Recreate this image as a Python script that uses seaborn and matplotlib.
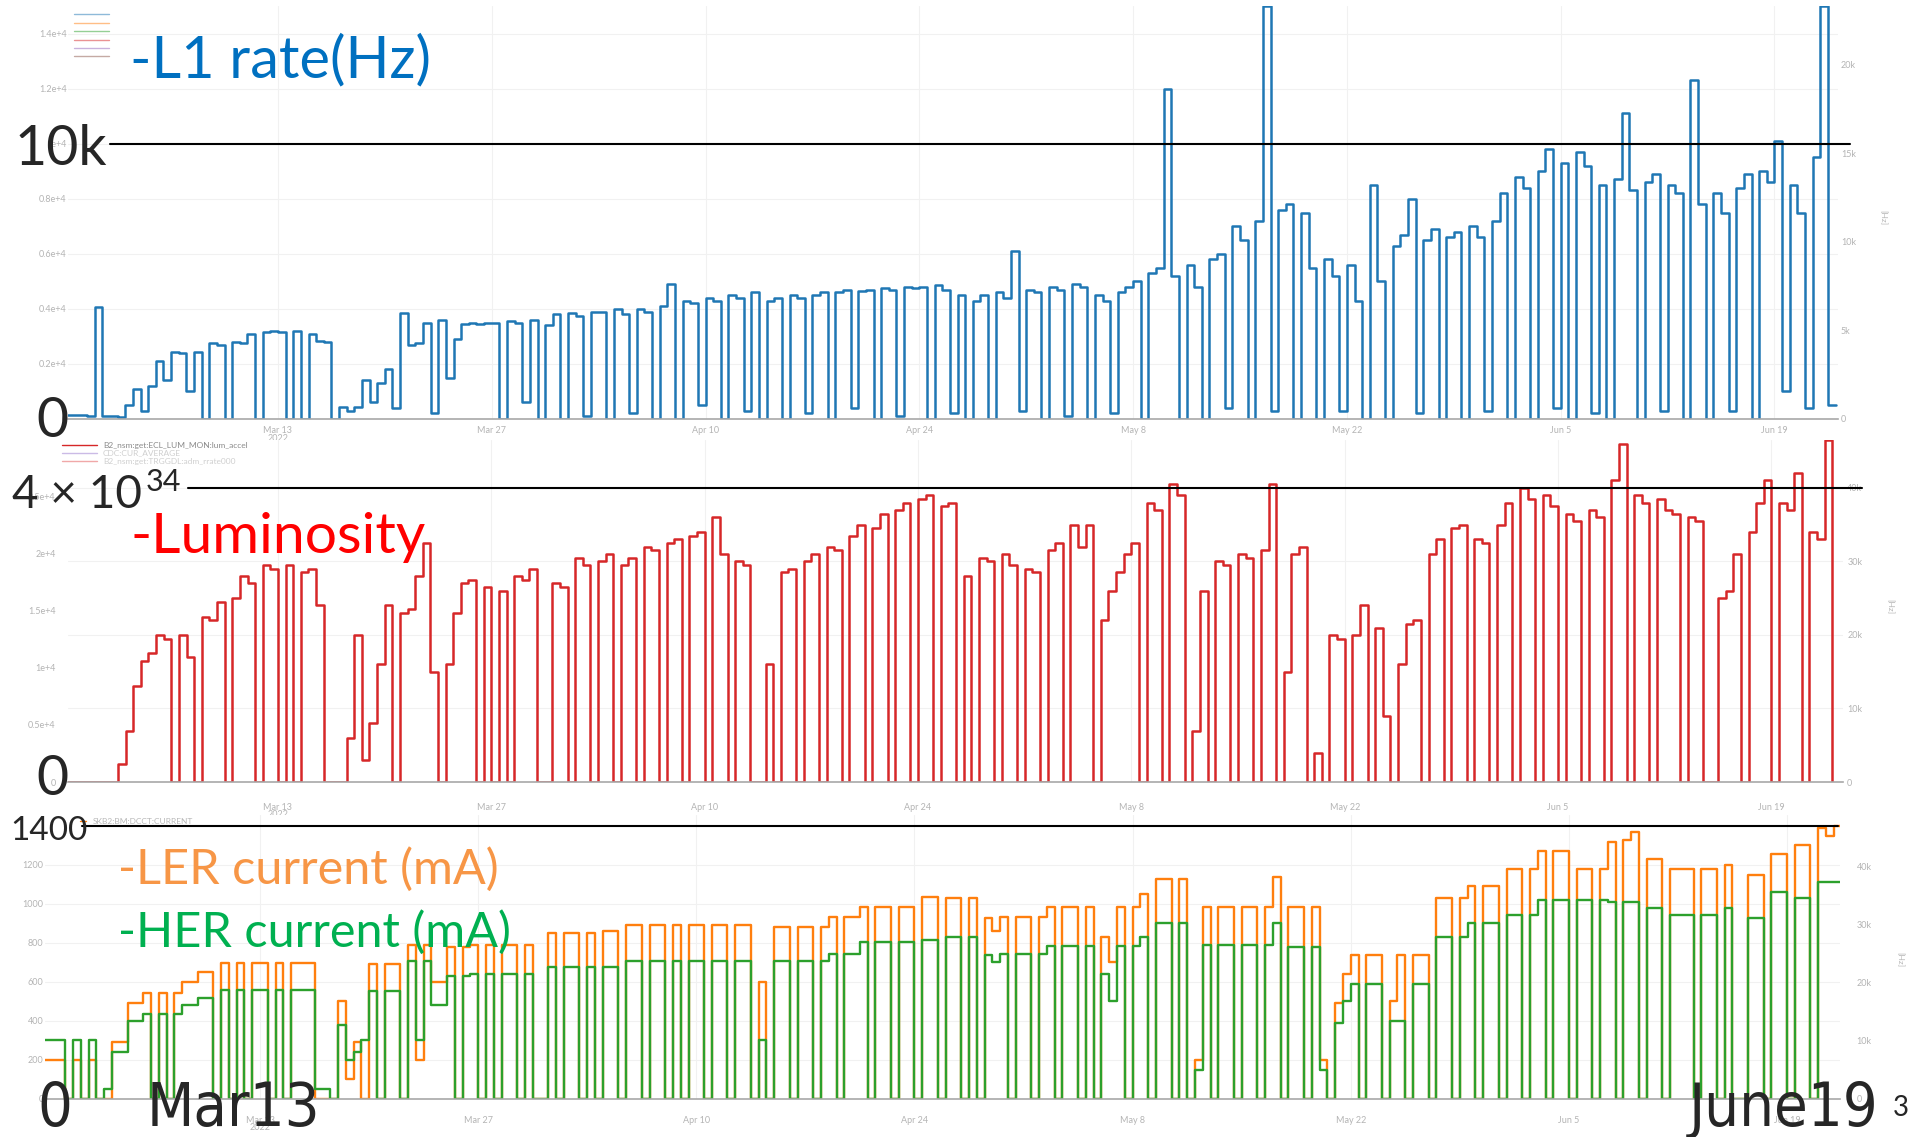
import matplotlib
matplotlib.use("Agg")
import matplotlib.pyplot as plt
from matplotlib import font_manager
from matplotlib.font_manager import FontProperties
from matplotlib.lines import Line2D
import pandas as pd
import seaborn as sns

W, H = 1915, 1137

# one reading every 12 h, Feb 27 -> Jun 23 2022
times = pd.date_range("2022-02-27", periods=233, freq="12h")

# L1 trigger rate [Hz], one row per week
l1_rate = [
    150, 150, 150, 120, 4050, 100, 100, 80, 500, 1100, 300, 1200, 2100, 1400,
    2450, 2400, 1000, 2450, 0, 2750, 2700, 0, 2800, 2750, 3100, 0, 3150, 3200,
    3150, 0, 3200, 0, 3100, 2850, 2800, 0, 450, 300, 450, 1400, 600, 1300,
    1800, 400, 3850, 2700, 2750, 3500, 200, 3600, 1500, 2900, 3450, 3500, 3450, 3500,
    3500, 0, 3550, 3500, 600, 3600, 0, 3400, 3800, 0, 3850, 3750, 100, 3900,
    3900, 0, 4000, 3800, 200, 4000, 3900, 0, 4100, 4900, 0, 4300, 4200, 500,
    4400, 4300, 0, 4500, 4400, 300, 4600, 0, 4300, 4400, 0, 4500, 4400, 200,
    4500, 4600, 0, 4600, 4700, 400, 4650, 4700, 0, 4750, 4700, 100, 4800, 4750,
    4800, 0, 4850, 4700, 200, 4500, 0, 4300, 4500, 0, 4600, 4400, 6100, 300,
    4700, 4600, 0, 4800, 4700, 100, 4900, 4800, 0, 4500, 4300, 200, 4600, 4800,
    5000, 0, 5300, 5500, 12000, 5200, 0, 5600, 4800, 0, 5800, 6000, 400, 7000,
    6500, 0, 7200, 15000, 300, 7600, 7800, 0, 7500, 5500, 0, 5800, 5200, 300,
    5600, 4300, 0, 8500, 5000, 0, 6300, 6700, 8000, 200, 6500, 6900, 0, 6600,
    6800, 0, 7000, 6600, 300, 7200, 8200, 0, 8800, 8400, 0, 9000, 9800, 400,
    9300, 0, 9700, 9200, 200, 8500, 0, 8700, 11100, 8300, 0, 8600, 8900, 300,
    8500, 8200, 0, 12300, 7800, 0, 8200, 7500, 300, 8400, 8900, 0, 9000, 8600,
    10100, 1000, 8500, 7500, 400, 9500, 15000, 500, 500,
]

# luminosity [1e30 /cm2/s]
luminosity = [
    0, 0, 0, 0, 0, 0, 0, 2500, 7000, 13000, 16500, 17500, 20000, 19500,
    0, 20000, 17000, 0, 22500, 22000, 24500, 0, 25000, 28000, 27000, 0, 29500, 29000,
    0, 29500, 0, 28500, 29000, 24000, 0, 0, 0, 6000, 20000, 3000, 8000, 16000,
    24000, 0, 23000, 23500, 28000, 32500, 15000, 0, 16000, 23000, 27000, 27500, 0, 26500,
    0, 26000, 0, 28000, 27500, 29000, 0, 0, 27000, 26500, 0, 30500, 29500, 0,
    30000, 31000, 0, 29500, 30500, 0, 32000, 31500, 0, 32500, 33000, 0, 33500, 34000,
    0, 36000, 31000, 0, 30000, 29500, 0, 0, 16000, 0, 28500, 29000, 0, 30000,
    31000, 0, 32000, 31500, 0, 33500, 35000, 0, 34500, 36500, 0, 37000, 38000, 0,
    38500, 39000, 0, 37500, 38000, 0, 28000, 0, 30500, 30000, 0, 31000, 29500, 0,
    29000, 28500, 0, 31500, 32500, 0, 35000, 32000, 35000, 0, 22000, 26000, 28500, 31000,
    32500, 0, 38000, 37000, 0, 40500, 39000, 0, 7000, 26000, 0, 30000, 29500, 0,
    31000, 30500, 0, 31500, 40500, 0, 15000, 31000, 32000, 0, 4000, 0, 20000, 19500,
    0, 20000, 24000, 0, 21000, 9000, 0, 16000, 21500, 22000, 0, 31000, 33000, 0,
    34500, 35000, 0, 33000, 32500, 0, 35000, 38000, 0, 40000, 38500, 0, 39000, 37500,
    0, 36500, 35500, 0, 37000, 36000, 0, 41000, 46000, 0, 39000, 38000, 0, 38500,
    37000, 36500, 0, 36000, 35500, 0, 0, 25000, 26000, 31000, 0, 34000, 38000, 41000,
    0, 38000, 37000, 42000, 0, 34000, 33000, 46500, 0,
]

# beam currents [mA]
ler_current = [
    200, 200, 200, 0, 200, 0, 200, 0, 0, 290, 290, 490, 490, 545,
    0, 545, 0, 545, 600, 600, 650, 650, 0, 695, 0, 695, 0, 695,
    695, 0, 695, 0, 695, 695, 695, 0, 0, 0, 500, 100, 290, 0,
    690, 0, 690, 690, 0, 790, 200, 790, 600, 600, 780, 0, 780, 790,
    0, 790, 0, 790, 790, 0, 790, 0, 0, 850, 0, 850, 850, 0,
    850, 0, 860, 860, 0, 890, 890, 0, 890, 890, 0, 890, 0, 890,
    890, 0, 890, 890, 0, 890, 890, 0, 600, 0, 880, 880, 0, 880,
    880, 0, 880, 935, 0, 935, 935, 985, 0, 985, 985, 0, 985, 985,
    0, 1035, 1035, 0, 1030, 1030, 0, 1030, 0, 930, 860, 935, 0, 935,
    935, 0, 935, 985, 0, 985, 985, 0, 985, 0, 830, 700, 985, 0,
    985, 1050, 0, 1130, 1130, 0, 1130, 0, 200, 985, 0, 985, 985, 0,
    985, 985, 0, 985, 1140, 0, 985, 985, 0, 985, 200, 0, 490, 640,
    740, 0, 740, 740, 0, 500, 740, 0, 740, 740, 0, 1030, 1030, 0,
    1030, 1090, 0, 1090, 1090, 0, 1180, 1180, 0, 1180, 1270, 0, 1270, 1270,
    0, 1180, 1180, 0, 1180, 1320, 0, 1330, 1370, 0, 1230, 1230, 0, 1180,
    1180, 1180, 0, 1180, 1180, 0, 1200, 0, 0, 1150, 1150, 0, 1255, 1255,
    0, 1300, 1300, 0, 1390, 1350, 1400, 0, 0,
]

her_current = [
    300, 300, 300, 0, 300, 0, 300, 0, 50, 240, 240, 400, 400, 435,
    0, 435, 0, 435, 480, 480, 520, 520, 0, 560, 0, 560, 0, 560,
    560, 0, 560, 0, 560, 560, 560, 50, 50, 0, 380, 200, 240, 300,
    555, 0, 555, 555, 0, 710, 300, 710, 480, 480, 630, 0, 630, 640,
    0, 640, 0, 640, 640, 0, 640, 0, 0, 675, 0, 675, 675, 0,
    675, 0, 675, 675, 0, 710, 710, 0, 710, 710, 0, 710, 0, 710,
    710, 0, 710, 710, 0, 710, 710, 0, 300, 0, 710, 710, 0, 710,
    710, 0, 710, 745, 0, 745, 745, 805, 0, 805, 805, 0, 805, 805,
    0, 815, 815, 0, 830, 830, 0, 830, 0, 740, 700, 745, 0, 745,
    745, 0, 745, 785, 0, 785, 785, 0, 785, 0, 640, 500, 785, 0,
    785, 830, 0, 900, 900, 0, 900, 0, 150, 790, 0, 790, 790, 0,
    790, 790, 0, 790, 900, 0, 780, 780, 0, 780, 150, 0, 390, 500,
    590, 0, 590, 590, 0, 400, 400, 0, 590, 590, 0, 830, 830, 0,
    830, 900, 0, 900, 900, 0, 945, 945, 0, 945, 1020, 0, 1020, 1020,
    0, 1020, 1020, 0, 1020, 1010, 0, 1010, 1010, 0, 980, 980, 0, 945,
    945, 945, 0, 945, 945, 0, 980, 0, 0, 930, 930, 0, 1060, 1060,
    0, 1030, 1030, 0, 1115, 1115, 1115, 0, 0,
]

date_ticks = pd.to_datetime(["2022-03-13", "2022-03-27", "2022-04-10", "2022-04-24",
                             "2022-05-08", "2022-05-22", "2022-06-05", "2022-06-19"])
date_labels = ["Mar 13\n2022", "Mar 27", "Apr 10", "Apr 24", "May 8", "May 22", "Jun 5", "Jun 19"]

l1_ticks = [0, 2000, 4000, 6000, 8000, 10000, 12000, 14000]
l1_tick_labels = ["0", "0.2e+4", "0.4e+4", "0.6e+4", "0.8e+4", "1e+4", "1.2e+4", "1.4e+4"]
l1_right_ticks = [0, 5000, 10000, 15000, 20000]
l1_right_labels = ["0", "5k", "10k", "15k", "20k"]

lumi_ticks = [0, 10000, 20000, 30000, 40000]
lumi_tick_labels = ["0", "10k", "20k", "30k", "40k"]
lumi_left_ticks = [0, 5000, 10000, 15000, 20000, 25000, 30000]
lumi_left_labels = ["0", "0.5e+4", "1e+4", "1.5e+4", "2e+4", "2.5e+4", "3e+4"]

cur_ticks = [0, 200, 400, 600, 800, 1000, 1200]
cur_tick_labels = ["0", "200", "400", "600", "800", "1000", "1200"]
cur_right_ticks = [0, 10000, 20000, 30000, 40000]
cur_right_labels = ["0", "10k", "20k", "30k", "40k"]

df = pd.DataFrame({"time": times, "l1": l1_rate, "lumi": luminosity,
                   "ler": ler_current, "her": her_current})

sns.set_theme(style="white")
plt.rcParams["font.family"] = ["Lato", "DejaVu Sans"]
GREY = "#b4b4b4"
BASE = pd.Timestamp("2022-03-13")


def find_condensed():
    # the slide's big date labels are squeezed, use a condensed face if one exists
    for f in font_manager.fontManager.ttflist:
        st = f.stretch
        narrow = (isinstance(st, str) and "condensed" in st) or (isinstance(st, int) and st < 500)
        if narrow and f.style == "normal" and f.weight in (400, "normal", "regular", "book"):
            return f.fname
    return None


cond_file = find_condensed()
if cond_file:
    BIG = FontProperties(fname=cond_file, size=44)
else:
    BIG = FontProperties(family="Lato", size=42)


def fx(px):
    return px / W


def fy(py):
    return 1 - py / H


def day(d):
    return BASE + pd.Timedelta(days=d)


def style_panel(ax, d0, d1, xpad):
    ax.set_xlim(day(d0), day(d1))
    ax.set_xticks(date_ticks)
    ax.set_xticklabels(date_labels, linespacing=0.8)
    ax.tick_params(axis="x", length=0, labelsize=6.5, labelcolor=GREY, pad=xpad)
    ax.tick_params(axis="y", length=0, labelsize=6.5, labelcolor=GREY)
    ax.grid(True, color="#f1f1f1", lw=0.8)
    for s in ["top", "left", "right"]:
        ax.spines[s].set_visible(False)
    ax.spines["bottom"].set_color("#a8a8a8")
    ax.spines["bottom"].set_linewidth(1.2)
    ax.set_xlabel("")
    ax.set_ylabel("")


def style_secondary(sec, ticks, labels, pad):
    sec.set_yticks(ticks)
    sec.set_yticklabels(labels)
    sec.tick_params(length=0, labelsize=6.5, labelcolor=GREY, pad=pad)
    for s in sec.spines.values():
        s.set_visible(False)


fig = plt.figure(figsize=(W / 100, H / 100), dpi=100)

# --- L1 rate ---
ax_top = fig.add_axes([fx(68), fy(419), (1838 - 68) / W, (419 - 6) / H])
sns.lineplot(data=df, x="time", y="l1", ax=ax_top, color="#1f77b4", lw=1.8,
             estimator=None, drawstyle="steps-post")
ax_top.set_ylim(0, 15000)
ax_top.set_yticks(l1_ticks)
ax_top.set_yticklabels(l1_tick_labels)
style_panel(ax_top, -13.75, 102.16, 5)
ax_top.tick_params(axis="y", pad=1)
sec = ax_top.secondary_yaxis("right", functions=(lambda v: v * 1.554, lambda v: v / 1.554))
style_secondary(sec, l1_right_ticks, l1_right_labels, 2)

# --- luminosity ---
ax_mid = fig.add_axes([fx(68), fy(782), (1843 - 68) / W, (782 - 440) / H])
sns.lineplot(data=df, x="time", y="lumi", ax=ax_mid, color="#d62728", lw=1.8,
             estimator=None, drawstyle="steps-post")
ax_mid.set_ylim(0, 46500)
ax_mid.yaxis.tick_right()
ax_mid.set_yticks(lumi_ticks)
ax_mid.set_yticklabels(lumi_tick_labels)
style_panel(ax_mid, -13.78, 102.7, 15)
ax_mid.tick_params(axis="y", pad=3)
sec = ax_mid.secondary_yaxis("left", functions=(lambda v: v * 0.6447, lambda v: v / 0.6447))
style_secondary(sec, lumi_left_ticks, lumi_left_labels, 9)

# --- beam currents ---
ax_bot = fig.add_axes([fx(45), fy(1099), (1840 - 45) / W, (1099 - 815) / H])
sns.lineplot(data=df, x="time", y="ler", ax=ax_bot, color="#ff7f0e", lw=1.7,
             estimator=None, drawstyle="steps-post")
sns.lineplot(data=df, x="time", y="her", ax=ax_bot, color="#2ca02c", lw=1.7,
             estimator=None, drawstyle="steps-post")
ax_bot.set_ylim(0, 1456)
ax_bot.set_yticks(cur_ticks)
ax_bot.set_yticklabels(cur_tick_labels)
style_panel(ax_bot, -13.8, 101.4, 12)
ax_bot.tick_params(axis="y", pad=1)
sec = ax_bot.secondary_yaxis("right", functions=(lambda v: v * 33.62, lambda v: v / 33.62))
style_secondary(sec, cur_right_ticks, cur_right_labels, 12)

# reference lines drawn on the slide
ax_top.axhline(10000, xmin=(110 - 68) / 1770, xmax=(1850 - 68) / 1770,
               color="black", lw=1.5, clip_on=False)
ax_mid.axhline(40000, xmin=(188 - 68) / 1775, xmax=(1862 - 68) / 1775,
               color="black", lw=1.5, clip_on=False)
ax_bot.axhline(1400, xmin=(82 - 45) / 1795, xmax=(1838 - 45) / 1795,
               color="black", lw=1.5, clip_on=False)

# faint grafana legends
for y, c in zip([14, 23, 31, 40, 48, 56],
                ["#1f77b4", "#ff7f0e", "#2ca02c", "#d62728", "#9467bd", "#8c564b"]):
    fig.add_artist(Line2D([fx(74), fx(109)], [fy(y), fy(y)], color=c, lw=1, alpha=0.5))
for y, c, tc, t in [(445, "#d62728", "#8a8a8a", "B2_nsm:get:ECL_LUM_MON:lum_accel"),
                    (453, "#cbbbe6", "#cfcfcf", "CDC:CUR_AVERAGE"),
                    (461, "#f0a8a8", "#cfcfcf", "B2_nsm:get:TRGGDL:adm_rrate000")]:
    fig.add_artist(Line2D([fx(62), fx(97)], [fy(y), fy(y)], color=c, lw=1))
    fig.text(fx(103), fy(y), t, fontsize=6, color=tc, va="center")
fig.add_artist(Line2D([fx(80), fx(86)], [fy(821), fy(821)], color="#ff7f0e", lw=1))
fig.text(fx(93), fy(821), "SKB2:BM:DCCT:CURRENT", fontsize=6, color="#b8b8b8", va="center")
for x, y in [(1883, 218), (1890, 607), (1900, 960)]:
    fig.text(fx(x), fy(y), "[Hz]", fontsize=6, color=GREY, rotation=270, ha="center", va="center")

# slide annotations
fig.text(fx(130), fy(77), "-L1 rate(Hz)", color="#0070C0", fontsize=41.5, va="baseline")
fig.text(fx(15), fy(165), "10k", fontsize=40, va="baseline")
fig.text(fx(36), fy(437), "0", fontsize=40, va="baseline")
fig.text(fx(12), fy(508), "4 × 10", fontsize=33, va="baseline")
fig.text(fx(146), fy(491), "34", fontsize=22, va="baseline")
fig.text(fx(130), fy(553), "-Luminosity", color="#FF0000", fontsize=41, va="baseline")
fig.text(fx(36), fy(795), "0", fontsize=40, va="baseline")
fig.text(fx(10), fy(840), "1400", fontsize=24, va="baseline")
fig.text(fx(118), fy(884), "-LER current (mA)", color="#F79646", fontsize=35, va="baseline")
fig.text(fx(118), fy(947), "-HER current (mA)", color="#00B050", fontsize=35, va="baseline")
fig.text(fx(37), fy(1126), "0", fontproperties=BIG, va="baseline")
fig.text(fx(147), fy(1126), "Mar13", fontproperties=BIG, va="baseline")
fig.text(fx(1689), fy(1126), "June19", fontproperties=BIG, va="baseline")
fig.text(fx(1893), fy(1116), "3", fontsize=20, va="baseline")

fig.savefig("out.png", dpi=100)
